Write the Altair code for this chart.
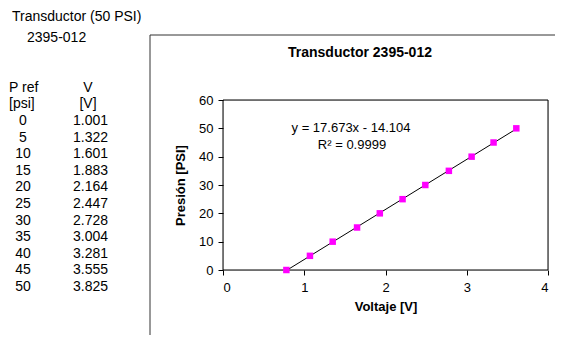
import altair as alt
import pandas as pd

# Calibration data shown in the table
p_ref = [0, 5, 10, 15, 20, 25, 30, 35, 40, 45, 50]
v_table = ["1.001", "1.322", "1.601", "1.883", "2.164", "2.447", "2.728", "3.004", "3.281", "3.555", "3.825"]

# Points as plotted in the chart
volt_plot = [0.78, 1.07, 1.35, 1.65, 1.93, 2.21, 2.49, 2.78, 3.06, 3.33, 3.61]
pres_plot = [0, 5, 10, 15, 20, 25, 30, 35, 40, 45, 50]

x_ticks = [0, 1, 2, 3, 4]
y_ticks = [0, 10, 20, 30, 40, 50, 60]

FONT = "Liberation Sans"

pts = pd.DataFrame({"V": volt_plot, "P": pres_plot})
tbl = pd.DataFrame({"row": list(range(len(p_ref))), "p": [str(v) for v in p_ref], "v": v_table})

xsc = alt.Scale(domain=[0, 4], nice=False, zero=False)
ysc = alt.Scale(domain=[0, 60], nice=False, zero=False)

axis_style = dict(
    grid=False, domain=False, tickColor="black", tickSize=5, labelOverlap=False,
    labelFont=FONT, labelFontSize=13, labelColor="black",
    titleFont=FONT, titleFontSize=13, titleFontWeight="bold", titleColor="black",
)

X = alt.X("V:Q", scale=xsc, title="Voltaje [V]",
          axis=alt.Axis(values=x_ticks, format="d", titlePadding=6, labelPadding=6, **axis_style))
Y = alt.Y("P:Q", scale=ysc, title="Presión [PSI]",
          axis=alt.Axis(values=y_ticks, format="d", titlePadding=11, labelPadding=5, **axis_style))

base = alt.Chart(pts)

points = base.mark_square(size=42, color="#FF00FF", opacity=1).encode(x=X, y=Y)

trend = base.transform_regression("V", "P").mark_line(color="black", strokeWidth=1).encode(x=X, y=Y)

def label(txt, x, y, size=13, bold=False, align="center"):
    return alt.Chart(pd.DataFrame({"t": [txt]})).mark_text(
        font=FONT, fontSize=size, fontWeight="bold" if bold else "normal",
        align=align, baseline="middle", color="black"
    ).encode(text="t:N", x=alt.value(x), y=alt.value(y))

def rect(x, x2, y, y2, color):
    return alt.Chart(pd.DataFrame({"a": [0]})).mark_rect(
        fill=None, filled=False, stroke=color, strokeWidth=1
    ).encode(x=alt.value(x), x2=alt.value(x2), y=alt.value(y), y2=alt.value(y2))

main = alt.layer(
    rect(-73, 400, -65, 300, "#333333"),
    rect(0, 325, 0, 170, "black"),
    trend,
    points,
    label("Transductor 2395-012", 137, -47, size=14, bold=True),
    label("y = 17.673x - 14.104", 128, 28),
    label("R² = 0.9999", 129, 45),
    label("Transductor (50 PSI)", -211, -83, size=14, align="left"),
    label("2395-012", -196, -62, size=14, align="left"),
    label("P ref", -214, -12, size=14, align="left"),
    label("[psi]", -214, 4, size=14, align="left"),
    label("V", -135, -12, size=14),
    label("[V]", -135, 4, size=14),
)

rows_y = alt.Y("row:Q", scale=alt.Scale(domain=[0, 10], range=[21, 187], nice=False, zero=False), axis=None)
col_p = alt.Chart(tbl).mark_text(font=FONT, fontSize=14, align="center", baseline="middle", color="black").encode(
    y=rows_y, x=alt.value(-200), text="p:N")
col_v = alt.Chart(tbl).mark_text(font=FONT, fontSize=14, align="left", baseline="middle", color="black").encode(
    y=rows_y, x=alt.value(-150), text="v:N")
table = alt.layer(col_p, col_v)

chart = alt.layer(main, table).resolve_scale(y="independent").properties(
    width=325, height=170,
    autosize=alt.AutoSizeParams(type="none"),
    padding={"left": 215, "top": 92, "right": 7, "bottom": 65},
).configure_view(stroke=None).configure(background="white")

chart.save("out.html", embed_options={"renderer": "svg", "actions": False})
